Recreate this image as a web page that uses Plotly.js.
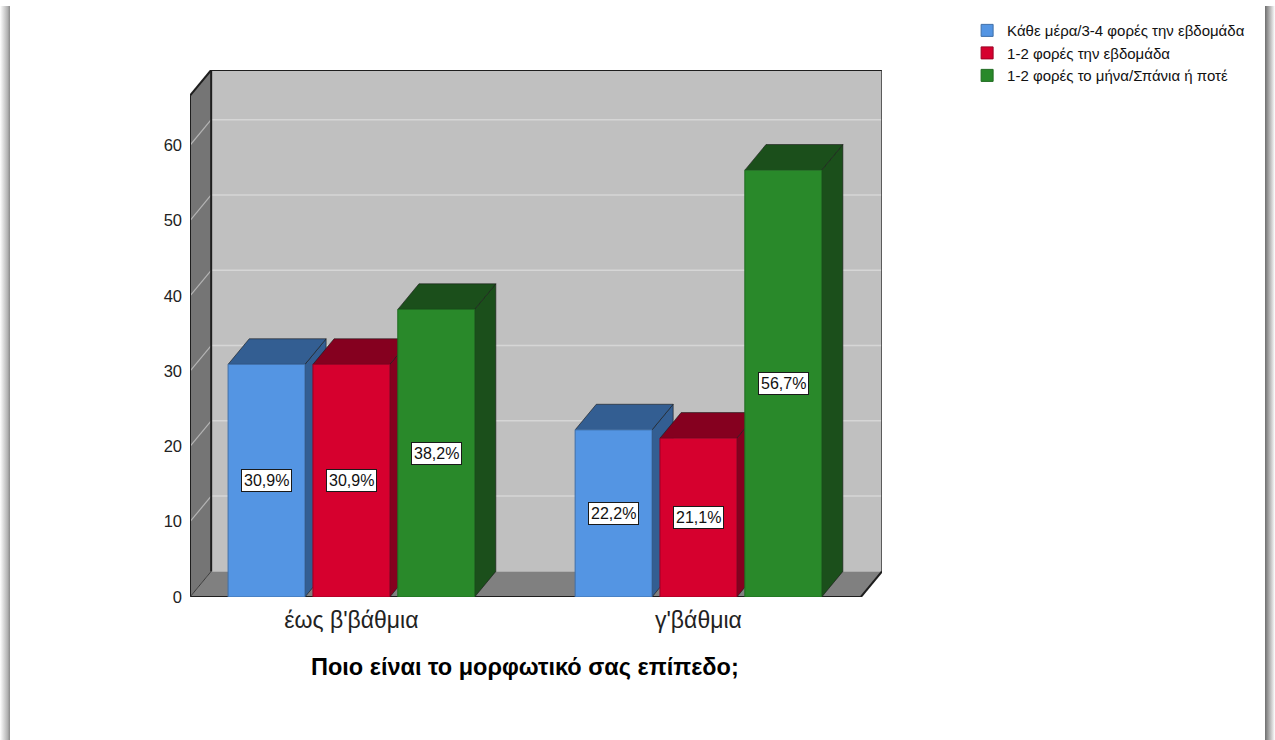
<!DOCTYPE html>
<html>
<head>
<meta charset="utf-8">
<script src="https://cdn.plot.ly/plotly-3.0.1.min.js"></script>
<style>
  html, body { margin:0; padding:0; background:#fff; }
  #wrap { position:relative; width:1275px; height:740px; overflow:hidden; }
  #chart { position:absolute; left:0; top:0; width:1275px; height:740px; }
  .edgeL { position:absolute; left:0; top:6px; width:10px; height:734px;
           background:linear-gradient(to right, rgba(255,255,255,0), rgba(160,160,160,0.8) 75%, #8a8a8a); }
  .edgeR { position:absolute; left:1265px; top:6px; width:10px; height:734px;
           background:linear-gradient(to right, #6e6e6e, #a8a8a8 40%, rgba(255,255,255,0)); }
</style>
</head>
<body>
<div id="wrap">
  <div id="chart"></div>
  <div class="edgeL"></div>
  <div class="edgeR"></div>
</div>
<script>
// ---------------- data ----------------
const categories = ["έως β'βάθμια", "γ'βάθμια"];
const seriesNames = [
  "Κάθε μέρα/3-4 φορές την εβδομάδα",
  "1-2 φορές την εβδομάδα",
  "1-2 φορές το μήνα/Σπάνια ή ποτέ"
];
const dailyValues   = [30.9, 22.2];
const weeklyValues  = [30.9, 21.1];
const monthlyValues = [38.2, 56.7];
const yTickValues = [0, 10, 20, 30, 40, 50, 60];
const xTitle = "Ποιο είναι το μορφωτικό σας επίπεδο;";

// ---------------- styling / geometry ----------------
const seriesValues = [dailyValues, weeklyValues, monthlyValues];
const frontColors = ["#5495e3", "#d6002e", "#29892a"];
const darkColors  = ["#335e92", "#85001f", "#1b4f1b"];
const edgeColors  = ["#3f6fa8", "#9a0024", "#1f6a20"];
const FONT = 'Liberation Sans, Arial, sans-serif';

const X_LEFT = -0.465;      // front-left edge of the box
const X_RIGHT_FRONT = 1.468;
const DX = 0.061;           // depth offset in x units
const DY = 3.4;             // depth offset in y units
const Y_TOP = 70;
const BAR_W = 0.2215;
const BAR_PITCH = 0.2445;
const xs = categories.map((c, i) => i);

const traces = [];
const shapes = [];
const annotations = [];

function poly(pts, fill, line, lw) {
  const path = pts.map((p, k) => (k ? 'L' : 'M') + p[0] + ',' + p[1]).join(' ') + ' Z';
  return { type:'path', xref:'x', yref:'y', path, fillcolor:fill,
           line:{ color: line || fill, width: lw === undefined ? 0.5 : lw }, layer:'below' };
}
function seg(x0, y0, x1, y1, color, w) {
  return { type:'line', xref:'x', yref:'y', x0, y0, x1, y1, line:{ color, width:w }, layer:'below' };
}

// back wall
shapes.push(poly([[X_LEFT+DX, DY], [X_RIGHT_FRONT+DX, DY], [X_RIGHT_FRONT+DX, Y_TOP], [X_LEFT+DX, Y_TOP]], '#c0c0c0', '#c0c0c0', 0));
// grid lines on back wall
yTickValues.slice(1).forEach(v => {
  shapes.push(seg(X_LEFT+DX, v+DY, X_RIGHT_FRONT+DX, v+DY, '#d6d6d6', 1.5));
});
// left wall
shapes.push(poly([[X_LEFT, 0], [X_LEFT+DX, DY], [X_LEFT+DX, Y_TOP], [X_LEFT, Y_TOP-DY]], '#757575', '#757575', 0));
yTickValues.slice(1).forEach(v => {
  shapes.push(seg(X_LEFT, v, X_LEFT+DX, v+DY, '#b4b4b4', 1.2));
});
// floor
shapes.push(poly([[X_LEFT, 0], [X_RIGHT_FRONT, 0], [X_RIGHT_FRONT+DX, DY], [X_LEFT+DX, DY]], '#808080', '#808080', 0));
// box outlines
shapes.push(seg(X_LEFT, 0, X_LEFT, Y_TOP-DY, '#1e1e1e', 2));
shapes.push(seg(X_LEFT, Y_TOP-DY, X_LEFT+DX, Y_TOP, '#1e1e1e', 2));
shapes.push(seg(X_LEFT+DX, Y_TOP, X_RIGHT_FRONT+DX, Y_TOP, '#1e1e1e', 2));
shapes.push(seg(X_LEFT+DX, DY, X_LEFT+DX, Y_TOP, '#1e1e1e', 2));
shapes.push(seg(X_RIGHT_FRONT+DX, DY, X_RIGHT_FRONT+DX, Y_TOP, '#3a3a3a', 1.5));
shapes.push(seg(X_LEFT, 0, X_RIGHT_FRONT, 0, '#1e1e1e', 2));
shapes.push(seg(X_RIGHT_FRONT, 0, X_RIGHT_FRONT+DX, DY, '#1e1e1e', 2));
shapes.push(seg(X_LEFT, 0, X_LEFT+DX, DY, '#3a3a3a', 1));

// bars: side + top faces as shapes (drawn left to right), fronts as bar traces
const bars = [];
xs.forEach((xc, ci) => {
  seriesValues.forEach((vals, si) => {
    const off = (si - 1) * BAR_PITCH - BAR_W / 2;
    bars.push({ x0: xc + off, x1: xc + off + BAR_W, v: vals[ci], si });
  });
});
bars.sort((a, b) => a.x0 - b.x0).forEach(b => {
  const c = darkColors[b.si];
  shapes.push(poly([[b.x1, 0], [b.x1+DX, DY], [b.x1+DX, b.v+DY], [b.x1, b.v]], c, '#1a1a1a', 0.6));
  shapes.push(poly([[b.x0, b.v], [b.x0+DX, b.v+DY], [b.x1+DX, b.v+DY], [b.x1, b.v]], c, '#1a1a1a', 0.6));
});

seriesValues.forEach((vals, si) => {
  const off = (si - 1) * BAR_PITCH - BAR_W / 2;
  traces.push({
    type:'bar', name: seriesNames[si], x: xs, y: vals,
    width: BAR_W, offset: off,
    marker:{ color: frontColors[si], line:{ color: edgeColors[si], width: 1 } },
    hoverinfo:'skip'
  });
  vals.forEach((v, ci) => {
    annotations.push({
      xref:'x', yref:'y', x: xs[ci] + off + BAR_W/2, y: v/2,
      text: v.toFixed(1).replace('.', ',') + '%', showarrow:false,
      font:{ family: FONT, size:16, color:'#111' },
      bgcolor:'#ffffff', bordercolor:'#1a1a1a', borderwidth:1, borderpad:2
    });
  });
});

annotations.push({
  xref:'x', yref:'paper', x: (X_LEFT + X_RIGHT_FRONT)/2, y: -0.133,
  text: '<b>' + xTitle + '</b>', showarrow:false, yanchor:'middle',
  font:{ family: FONT, size:23.5, color:'#000' }
});

const layout = {
  width:1275, height:740,
  margin:{ l:190, r:393, t:70, b:143, pad:0 },
  paper_bgcolor:'#ffffff', plot_bgcolor:'rgba(0,0,0,0)',
  barmode:'overlay',
  font:{ family: FONT, color:'#222' },
  xaxis:{
    range:[X_LEFT, X_RIGHT_FRONT + DX], tickvals: xs, ticktext: categories,
    showgrid:false, zeroline:false, showline:false, ticks:'',
    tickfont:{ size:23, color:'#222' }, ticklabelstandoff: 7, fixedrange:true
  },
  yaxis:{
    range:[0, Y_TOP], tickvals: yTickValues, ticktext: yTickValues.map(String),
    showgrid:false, zeroline:false, showline:false, ticks:'',
    tickfont:{ size:16.5, color:'#222' }, ticklabelstandoff: 7, fixedrange:true
  },
  legend:{
    x:1.123, y:1.106, xanchor:'left', yanchor:'top',
    font:{ size:15, color:'#111' }, itemwidth:30,
    bgcolor:'rgba(0,0,0,0)', tracegroupgap:0
  },
  showlegend:true,
  shapes, annotations
};

Plotly.newPlot('chart', traces, layout, { displayModeBar:false, staticPlot:true });
</script>
</body>
</html>
